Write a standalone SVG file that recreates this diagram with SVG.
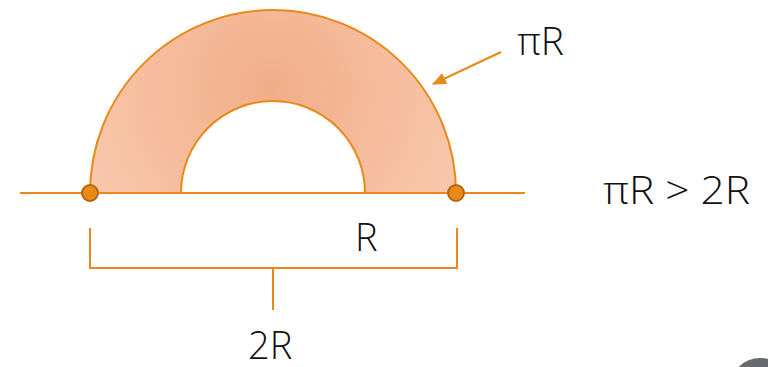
<svg xmlns="http://www.w3.org/2000/svg" width="768" height="367" viewBox="0 0 768 367">
<style>
.ln{stroke:#e8891a;stroke-width:2;fill:none}
.t{font-family:"Open Sans","Noto Sans",sans-serif;font-size:38px;font-weight:300;fill:#111}
</style>
<defs>
<radialGradient id="g" cx="273" cy="90" r="200" gradientUnits="userSpaceOnUse">
<stop offset="0" stop-color="#f0ae88"/>
<stop offset="1" stop-color="#f9c7ab"/>
</radialGradient>
<marker id="ah" viewBox="0 0 14 12" refX="13" refY="6" markerWidth="14" markerHeight="12" orient="auto" markerUnits="userSpaceOnUse">
<path d="M0,0 L14,6 L0,12 z" fill="#e8891a"/>
</marker>
</defs>
<rect width="768" height="367" fill="#fff"/>
<g id="annulus">
<path d="M90,193 A183,183 0 0 1 456,193 L365,193 A92,92 0 0 0 181,193 Z" fill="url(#g)" stroke="#e8891a" stroke-width="2"/>
</g>
<g id="connectors">
<line class="ln" x1="501" y1="52" x2="433" y2="84" marker-end="url(#ah)"/>
<line class="ln" x1="20" y1="193" x2="525" y2="193"/>
<path class="ln" d="M90,228 V268 H457 V228 M273,268 V310"/>
</g>
<g id="dotL"><circle cx="90" cy="193" r="8" fill="#e8891a" stroke="#b5650c" stroke-width="2"/></g>
<g id="dotR"><circle cx="456" cy="193" r="8" fill="#e8891a" stroke="#b5650c" stroke-width="2"/></g>
<g id="labels">
<text class="t" x="517" y="55" textLength="47" lengthAdjust="spacingAndGlyphs">πR</text>
<text class="t" x="603" y="204" textLength="147" lengthAdjust="spacingAndGlyphs">πR &gt; 2R</text>
<text class="t" x="355" y="251">R</text>
<text class="t" x="248" y="359">2R</text>
</g>
<circle cx="760" cy="388" r="30" fill="#676b70"/>
</svg>
